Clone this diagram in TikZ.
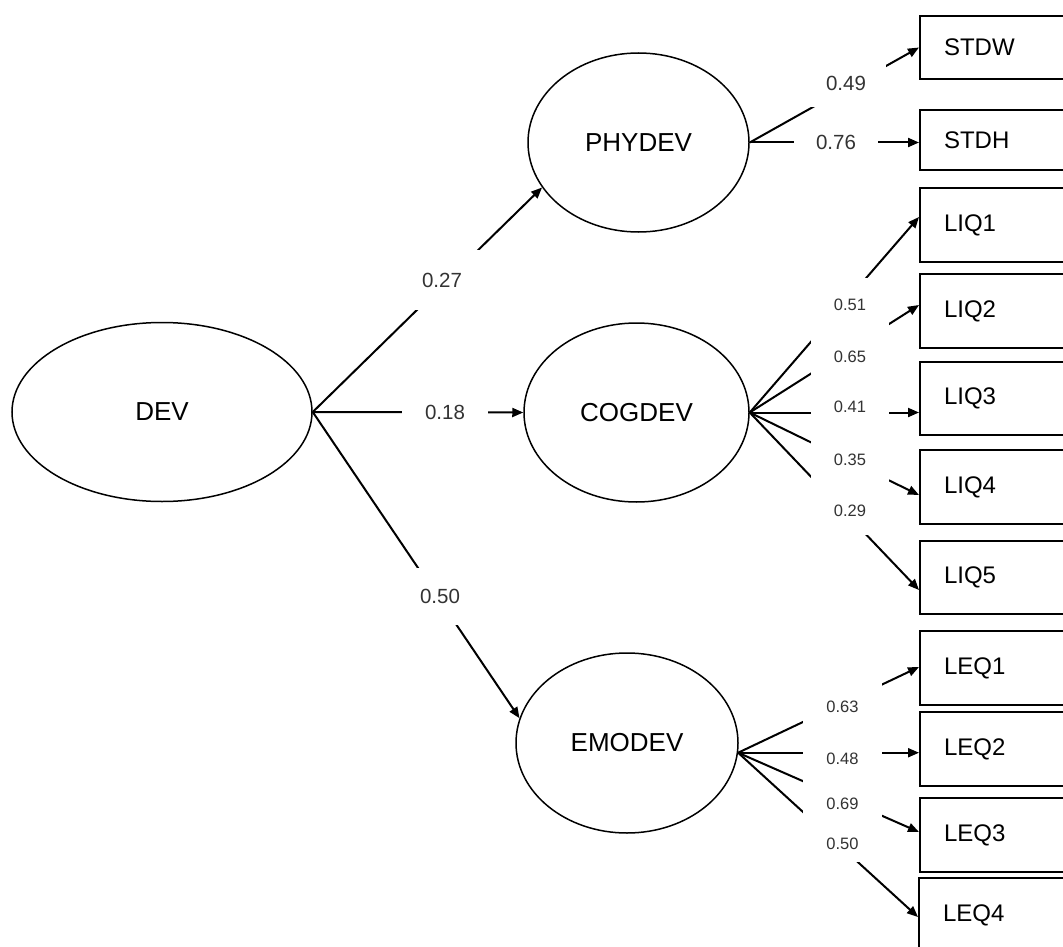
\documentclass[tikz,border=0pt]{standalone}
\usepackage{fontspec}
\setmainfont{Liberation Sans}
\usetikzlibrary{shapes.geometric,arrows.meta}
\begin{document}
\begin{tikzpicture}[x=1pt,y=-1pt,
  latent/.style={draw,ellipse,line width=1.5pt,inner sep=0pt,
    font=\fontsize{26}{30}\selectfont},
  observed/.style={draw,rectangle,line width=2pt,anchor=west,
    inner xsep=24pt,inner ysep=0pt,text width=130pt,align=left,
    font=\fontsize{24}{28}\selectfont},
  load/.style={line width=2pt,-{Triangle[length=11pt,width=9pt]}},
  coef/.style={fill=white,inner sep=0pt,text=black!80,
    font=\fontsize{20.5}{24}\selectfont},
  coefs/.style={coef,font=\fontsize{16.5}{20}\selectfont},
]
\clip (0,0) rectangle (1063,947);

% latent variables
\node[latent,minimum width=300pt,minimum height=179pt] (dev) at (162,412) {DEV};
\node[latent,minimum width=221pt,minimum height=179pt] (phy) at (638.5,142.5) {PHYDEV};
\node[latent,minimum width=225pt,minimum height=179pt] (cog) at (636.5,412.5) {COGDEV};
\node[latent,minimum width=222pt,minimum height=180pt] (emo) at (627,743) {EMODEV};

% observed indicators
\node[observed,minimum height=63pt] (stdw) at (919,47.5) {STDW};
\node[observed,minimum height=60pt] (stdh) at (919,140) {STDH};
\node[observed,minimum height=74pt] (liq1) at (919,225) {LIQ1};
\node[observed,minimum height=74pt] (liq2) at (919,311) {LIQ2};
\node[observed,minimum height=73pt] (liq3) at (919,398.5) {LIQ3};
\node[observed,minimum height=74pt] (liq4) at (919,487) {LIQ4};
\node[observed,minimum height=73pt] (liq5) at (919,577.5) {LIQ5};
\node[observed,minimum height=74pt] (leq1) at (919,668) {LEQ1};
\node[observed,minimum height=74pt] (leq2) at (919,749) {LEQ2};
\node[observed,minimum height=74pt] (leq3) at (919,835) {LEQ3};
\node[observed,minimum height=74pt] (leq4) at (918,915) {LEQ4};

\coordinate (eo) at (emo.-5);

% structural paths
\draw[load] (dev.east) -- (phy.205);
\draw[load] (dev.east) -- (cog.west);
\draw[load] (dev.east) -- (emo.167);

% measurement paths
\draw[load] (phy.east) -- (stdw.west);
\draw[load] (phy.east) -- (stdh.west |- phy.east);
\draw[load] (cog.east) -- ([yshift=8pt]liq1.west);
\draw[load] (cog.east) -- ([yshift=6pt]liq2.west);
\draw[load] (cog.east) -- (liq3.west |- cog.east);
\draw[load] (cog.east) -- ([yshift=-8pt]liq4.west);
\draw[load] (cog.east) -- ([yshift=-12.5pt]liq5.west);
\draw[load] (eo) -- ([yshift=1pt]leq1.west);
\draw[load] (eo) -- (leq2.west |- eo);
\draw[load] (eo) -- ([yshift=3pt]leq3.west);
\draw[load] (eo) -- ([yshift=-2pt]leq4.west);

% coefficients
\node[coef,minimum width=85pt,minimum height=60pt] (c27) at (442,280) {0.27};
\node[coef,minimum width=86pt,minimum height=40pt] (c18) at (445,412) {0.18};
\node[coef,minimum width=80pt,minimum height=57pt] (c50) at (440,596.5) {0.50};
\node[coef,minimum width=80pt,minimum height=47pt] (c49) at (846,83.5) {0.49};
\node[coef,minimum width=84pt,minimum height=36pt] (c76) at (836,142) {0.76};

\node[coefs,minimum width=78pt,minimum height=54pt] (c51) at (850,305) {0.51};
\node[coefs,minimum width=78pt,minimum height=50pt] (c65) at (850,357) {0.65};
\node[coefs,minimum width=78pt,minimum height=50pt] (c41) at (850,407) {0.41};
\node[coefs,minimum width=78pt,minimum height=55pt] (c35) at (850,459.5) {0.35};
\node[coefs,minimum width=78pt,minimum height=48pt] (c29) at (850,511) {0.29};

\node[coefs,minimum width=79pt,minimum height=57pt] (c63) at (842.5,706.5) {0.63};
\node[coefs,minimum width=79pt,minimum height=47pt] (c48) at (842.5,758.5) {0.48};
\node[coefs,minimum width=79pt,minimum height=43pt] (c69) at (842.5,803.5) {0.69};
\node[coefs,minimum width=79pt,minimum height=37pt] (c50b) at (842.5,843.5) {0.50};
\end{tikzpicture}
\end{document}
